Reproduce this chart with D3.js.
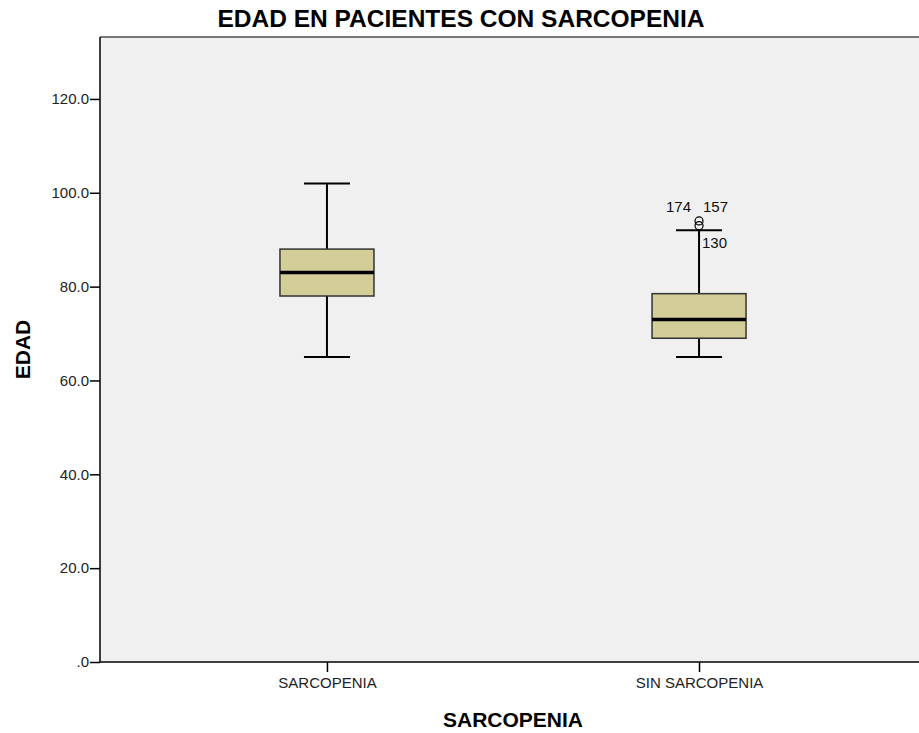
<!DOCTYPE html>
<html>
<head>
<meta charset="utf-8">
<script src="https://cdn.jsdelivr.net/npm/d3@7"></script>
<style>
  body { margin: 0; background: #fff; }
  text { font-family: "Liberation Sans", Arial, sans-serif; }
</style>
</head>
<body>
<svg id="chart" width="919" height="733"></svg>
<script>
// data
var categories = ["SARCOPENIA", "SIN SARCOPENIA"];
var lowWhisker = [65, 65];
var q1 = [78, 69];
var median = [83, 73];
var q3 = [88, 78.5];
var highWhisker = [102, 92];
var outliers = [
    { cat: "SIN SARCOPENIA", value: 94, labels: ["174", "157"] },
    { cat: "SIN SARCOPENIA", value: 93, labels: ["130"] }
];
var yTicks = [0, 20, 40, 60, 80, 100, 120];

var svg = d3.select("#chart");
var plotL = 100, plotR = 926, plotT = 37, plotB = 662;

var x = d3.scalePoint().domain(categories).range([plotL, plotR]).padding(0.61);
var y = d3.scaleLinear().domain([0, 133.2]).range([plotB, plotT]);

// plot background
svg.append("rect").attr("x", plotL).attr("y", plotT)
    .attr("width", plotR - plotL).attr("height", plotB - plotT)
    .attr("fill", "#f0f0f0");
svg.append("line").attr("x1", plotL).attr("x2", plotR)
    .attr("y1", plotT).attr("y2", plotT)
    .attr("stroke", "#777").attr("stroke-width", 2);

// axes
var yAxis = d3.axisLeft(y).tickValues(yTicks).tickSize(10).tickPadding(1)
    .tickFormat(d => d === 0 ? ".0" : d.toFixed(1));
var gy = svg.append("g").attr("transform", "translate(" + plotL + ",0)").call(yAxis);
var xAxis = d3.axisBottom(x).tickSize(10).tickPadding(5);
var gx = svg.append("g").attr("transform", "translate(0," + plotB + ")").call(xAxis);
[gy, gx].forEach(g => {
    g.select(".domain").attr("stroke", "#000").attr("stroke-width", 1.5);
    g.selectAll(".tick line").attr("stroke", "#000").attr("stroke-width", 1.5);
    g.selectAll(".tick text").attr("fill", "#222").style("font-size", "15px");
});
gy.select(".domain").attr("d", "M0," + plotB + "V" + plotT);
gx.select(".domain").attr("d", "M" + plotL + ",0H" + plotR);

// boxes
var boxW = 94, capW = 46;
var rows = categories.map((c, i) => ({
    cat: c, lo: lowWhisker[i], q1: q1[i], med: median[i], q3: q3[i], hi: highWhisker[i]
}));
var g = svg.append("g").selectAll("g").data(rows).enter().append("g");
g.append("line").attr("x1", d => x(d.cat)).attr("x2", d => x(d.cat))
    .attr("y1", d => y(d.hi)).attr("y2", d => y(d.q3))
    .attr("stroke", "#000").attr("stroke-width", 2);
g.append("line").attr("x1", d => x(d.cat)).attr("x2", d => x(d.cat))
    .attr("y1", d => y(d.q1)).attr("y2", d => y(d.lo))
    .attr("stroke", "#000").attr("stroke-width", 2);
g.append("line").attr("x1", d => x(d.cat) - capW / 2).attr("x2", d => x(d.cat) + capW / 2)
    .attr("y1", d => y(d.hi)).attr("y2", d => y(d.hi))
    .attr("stroke", "#000").attr("stroke-width", 2);
g.append("line").attr("x1", d => x(d.cat) - capW / 2).attr("x2", d => x(d.cat) + capW / 2)
    .attr("y1", d => y(d.lo)).attr("y2", d => y(d.lo))
    .attr("stroke", "#000").attr("stroke-width", 2);
g.append("rect").attr("x", d => x(d.cat) - boxW / 2).attr("width", boxW)
    .attr("y", d => y(d.q3)).attr("height", d => y(d.q1) - y(d.q3))
    .attr("fill", "#d3ce97").attr("stroke", "#333").attr("stroke-width", 1.5);
g.append("line").attr("x1", d => x(d.cat) - boxW / 2).attr("x2", d => x(d.cat) + boxW / 2)
    .attr("y1", d => y(d.med)).attr("y2", d => y(d.med))
    .attr("stroke", "#000").attr("stroke-width", 3.5);

// outliers
svg.selectAll("circle.out").data(outliers).enter().append("circle")
    .attr("class", "out").attr("cx", d => x(d.cat)).attr("cy", d => y(d.value))
    .attr("r", 4).attr("fill", "none").attr("stroke", "#000").attr("stroke-width", 1.2);
svg.append("text").attr("x", x(outliers[0].cat) - 8).attr("y", y(outliers[0].value) - 9)
    .attr("text-anchor", "end").style("font-size", "15px").attr("fill", "#111")
    .text(outliers[0].labels[0]);
svg.append("text").attr("x", x(outliers[0].cat) + 4).attr("y", y(outliers[0].value) - 9)
    .attr("text-anchor", "start").style("font-size", "15px").attr("fill", "#111")
    .text(outliers[0].labels[1]);
svg.append("text").attr("x", x(outliers[1].cat) + 3).attr("y", y(outliers[1].value) + 22)
    .attr("text-anchor", "start").style("font-size", "15px").attr("fill", "#111")
    .text(outliers[1].labels[0]);

// titles
svg.append("text").attr("x", 461).attr("y", 27).attr("text-anchor", "middle")
    .style("font-size", "24px").style("font-weight", "bold")
    .attr("textLength", 487).attr("lengthAdjust", "spacingAndGlyphs")
    .text("EDAD EN PACIENTES CON SARCOPENIA");
svg.append("text").attr("x", (plotL + plotR) / 2).attr("y", 727).attr("text-anchor", "middle")
    .style("font-size", "21px").style("font-weight", "bold")
    .text("SARCOPENIA");
svg.append("text").attr("transform", "translate(30," + (plotT + plotB) / 2 + ") rotate(-90)")
    .attr("text-anchor", "middle")
    .style("font-size", "21px").style("font-weight", "bold")
    .text("EDAD");
</script>
</body>
</html>
